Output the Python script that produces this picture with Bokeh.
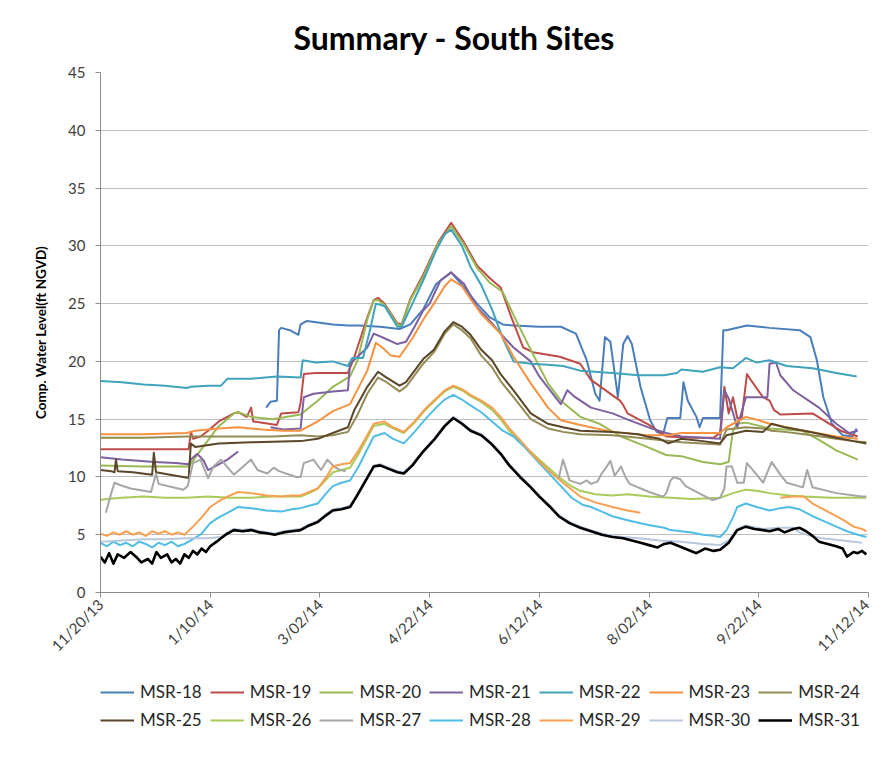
import math
from bokeh.plotting import figure
from bokeh.layouts import column
from bokeh.models import Range1d, FixedTicker, Legend, LegendItem
from bokeh.embed import file_html
from bokeh.resources import INLINE

nan = float("nan")

# x values are days since 11/20/13
tick_days = [0, 51, 102, 153, 204, 255, 306, 357]
tick_labels = ["11/20/13", "1/10/14", "3/02/14", "4/22/14", "6/12/14", "8/02/14", "9/22/14", "11/12/14"]
y_ticks = [0, 5, 10, 15, 20, 25, 30, 35, 40, 45]

names = ["MSR-18", "MSR-19", "MSR-20", "MSR-21", "MSR-22", "MSR-23", "MSR-24",
         "MSR-25", "MSR-26", "MSR-27", "MSR-28", "MSR-29", "MSR-30", "MSR-31"]
colors = ["#4A7EBB", "#BE4B48", "#98B954", "#7D60A0", "#3FA3BC", "#F69240", "#948A54",
          "#5A4628", "#A8CB5A", "#A6A6A6", "#4FBDE6", "#F9A050", "#B7C8DD", "#000000"]

msr18 = [(77, 16.0), (79, 16.5), (82, 16.6), (83, 22.7), (84, 22.9), (88, 22.7), (92, 22.3), (93, 23.2),
         (96, 23.5), (108, 23.2), (115, 23.1), (120, 23.1), (130, 23.0), (139, 22.8), (144, 23.2), (150, 24.5),
         (156, 26.7), (163, 27.7), (169, 26.4), (175, 25.0), (181, 23.8), (187, 23.2), (192, 23.1), (204, 23.0),
         (214, 23.0), (221, 22.4), (226, 20.1), (230, 17.2), (232, 16.6), (234.5, 22.1), (237, 21.7), (239, 19.0),
         (240.5, 16.9), (243, 21.5), (245, 22.2), (247, 21.5), (251, 17.8), (255.5, 14.9), (258.5, 13.9),
         (261.5, 13.7), (263.5, 15.1), (269.5, 15.1), (271, 18.2), (273, 16.6), (277, 15.2), (278.5, 14.3),
         (280, 15.1), (288, 15.1), (289.5, 22.7), (291, 22.7), (300.5, 23.1), (311, 22.9), (325, 22.7),
         (330, 22.1), (333, 20.1), (336, 16.9), (340, 14.6), (345, 13.6), (349.5, 13.5), (351.5, 14.2)]

msr19 = [(0, 12.4), (20, 12.4), (41, 12.4), (42, 13.9), (43, 13.3), (46.5, 13.5), (50, 14.0), (55, 14.8),
         (62, 15.5), (64, 15.6), (68, 15.2), (70, 16.0), (71, 14.8), (82, 14.5), (84, 15.5), (92, 15.6),
         (93, 16.4), (94.5, 18.9), (100, 19.0), (115, 19.0), (117.5, 20.1), (124, 23.8), (127, 25.3),
         (129, 25.5), (132, 25.0), (138, 23.3), (140, 23.2), (144, 25.4), (150, 27.5), (157, 30.3),
         (163, 32.0), (169, 30.3), (175, 28.3), (181, 27.2), (186, 26.4), (191, 23.8), (196.5, 21.2),
         (201, 20.8), (213.5, 20.4), (223, 19.8), (228, 18.4), (241.5, 16.6), (243, 16.2), (245, 15.5),
         (255, 14.5), (263, 13.5), (275, 13.4), (285, 13.4), (288, 13.8), (290, 17.8), (292, 15.5),
         (294, 16.9), (296, 15.1), (298, 15.0), (300.5, 18.9), (303, 18.2), (308, 16.9), (311, 16.6),
         (313, 15.8), (316, 15.4), (331, 15.5), (344, 14.0), (352, 13.5)]

msr20 = [(0, 11.0), (20, 10.9), (41, 10.9), (46.5, 12.3), (54.5, 14.3), (62, 15.5), (64, 15.6), (70, 15.2),
         (80, 15.0), (93, 15.4), (101, 16.6), (108, 17.8), (116, 18.7), (119.5, 20.1), (124, 23.6),
         (127, 25.3), (129, 25.3), (132, 24.9), (138, 23.2), (140, 23.1), (144, 25.3), (150, 27.3),
         (157, 30.2), (163, 31.7), (169, 30.1), (175, 28.1), (181, 26.8), (187, 26.0), (192, 24.0),
         (200, 21.0), (208, 18.1), (214, 16.6), (223, 15.2), (232, 14.6), (242, 13.5), (254, 12.6),
         (263, 11.9), (270, 11.8), (280, 11.3), (288, 11.1), (292, 11.3), (294, 14.0), (296, 14.6),
         (300, 14.7), (311, 14.2), (326, 14.0), (334, 13.2), (342, 12.3), (352, 11.5)]

msr21 = [(0, 11.7), (10, 11.5), (25, 11.3), (35, 11.2), (41, 11.1), (42, 11.5), (45, 12.0), (48, 11.4),
         (50, 10.6), (53, 10.9), (56, 11.2), (59, 11.5), (64, 12.2), (64.5, nan), (79, 14.3), (85, 14.1),
         (93, 14.2), (94.5, 16.9), (99, 17.2), (108, 17.4), (115, 17.5), (116, 19.8), (124, 21.2),
         (127, 22.4), (132, 22.0), (138, 21.5), (142, 21.7), (146, 23.0), (150, 24.4), (153, 25.0),
         (158, 27.0), (163, 27.7), (169, 26.7), (175, 24.7), (181, 23.5), (186, 22.4), (192, 21.2),
         (200, 20.0), (204, 18.7), (209, 17.5), (214, 16.3), (217, 17.5), (220, 17.0), (228, 16.0),
         (238, 15.5), (246, 14.9), (256, 14.2), (263, 13.8), (270, 13.5), (280, 13.4), (288, 13.3),
         (290, 17.5), (292, 16.8), (296, 14.3), (300, 16.9), (310, 16.9), (311, 19.8), (314, 19.9),
         (316, 18.8), (322, 17.5), (334, 16.0), (342, 14.6), (348, 13.8), (352, 14.0)]

msr22 = [(0, 18.3), (10, 18.2), (20, 18.0), (30, 17.9), (40, 17.7), (42, 17.8), (50, 17.9), (56, 17.9),
         (59, 18.5), (70, 18.5), (82, 18.7), (93, 18.6), (94, 20.1), (100, 19.9), (108, 20.0), (115, 19.6),
         (117, 20.3), (122, 20.3), (125, 22.5), (128, 25.0), (132, 24.8), (138, 23.0), (140, 23.0),
         (145, 25.0), (150, 27.0), (156, 29.6), (160, 31.0), (163, 31.4), (168, 30.0), (172, 28.2),
         (177, 26.6), (182, 24.5), (187, 22.0), (192, 20.0), (200, 19.8), (208, 19.7), (215, 19.6),
         (223, 19.2), (238, 19.0), (250, 18.8), (262, 18.8), (268, 19.0), (270, 19.3), (280, 19.1),
         (288, 19.5), (294, 19.4), (300, 20.3), (305, 19.9), (311, 20.1), (319, 19.6), (331, 19.4),
         (342, 19.0), (351.5, 18.7)]

msr23 = [(0, 13.7), (20, 13.7), (40, 13.8), (44, 14.0), (55, 14.2), (64, 14.3), (75, 14.1), (85, 14.0),
         (93, 14.0), (101, 14.8), (108, 15.7), (116, 16.3), (124, 19.2), (128, 21.6), (131, 21.2),
         (135, 20.5), (139, 20.4), (145, 22.0), (150, 23.6), (155, 25.0), (160, 26.5), (163, 27.1),
         (168, 26.5), (172, 25.4), (177, 24.1), (186, 22.4), (192, 20.4), (200, 18.1), (208, 16.0),
         (214, 14.9), (223, 14.5), (238, 13.9), (254, 13.6), (264, 13.6), (270, 13.8), (280, 13.8),
         (288, 13.8), (291, 14.3), (300, 15.2), (306, 14.9), (311, 14.6), (327, 14.0), (342, 13.5),
         (352, 13.3)]

msr24 = [(0, 13.4), (20, 13.4), (40, 13.5), (60, 13.5), (80, 13.5), (93, 13.6), (101, 13.5), (108, 13.6),
         (115, 13.9), (119, 15.2), (124, 17.2), (129, 18.6), (133, 18.2), (139, 17.4), (142, 17.8),
         (150, 19.8), (155, 20.8), (160, 22.4), (164, 23.2), (168, 22.7), (172, 22.0), (177, 20.5),
         (182, 19.5), (186, 18.3), (192, 16.9), (200, 15.0), (208, 14.2), (215, 13.9), (223, 13.7),
         (238, 13.6), (250, 13.4), (260, 13.2), (270, 13.0), (280, 12.9), (288, 12.8), (291, 14.1),
         (300, 14.3), (308, 14.2), (312, 14.0), (318, 13.9), (327, 13.7), (335, 13.5), (342, 13.3),
         (350, 13.1), (356, 13.0)]

msr25 = [(0, 10.6), (5, 10.5), (6.5, 10.4), (7.2, 11.5), (8, 10.5), (15, 10.4), (24, 10.2), (24.8, 12.1),
         (25.8, 10.4), (35, 10.1), (41, 9.9), (42, 12.9), (44, 12.6), (55, 12.9), (70, 13.0), (93, 13.1),
         (101, 13.3), (108, 13.8), (115, 14.3), (118, 15.8), (124, 17.8), (129, 19.1), (133, 18.6),
         (139, 17.9), (142, 18.2), (150, 20.2), (155, 21.0), (160, 22.6), (164, 23.4), (168, 23.0),
         (172, 22.3), (177, 21.0), (182, 20.1), (186, 18.9), (192, 17.5), (200, 15.5), (208, 14.6),
         (215, 14.3), (223, 14.0), (238, 13.9), (250, 13.7), (254, 13.5), (260, 13.3), (264, 12.9),
         (270, 13.3), (280, 13.1), (288, 12.9), (291, 13.6), (300, 14.0), (308, 13.9), (312, 14.6),
         (318, 14.3), (327, 14.0), (335, 13.7), (342, 13.4), (350, 13.1), (356, 12.9)]

msr26 = [(0, 8.0), (3, 8.1), (10, 8.2), (20, 8.3), (30, 8.2), (40, 8.2), (50, 8.3), (60, 8.2), (70, 8.2),
         (80, 8.3), (93, 8.3), (97, 8.6), (101, 9.0), (105, 9.8), (108, 10.4), (112, 10.6), (116, 10.8),
         (120, 12.0), (124, 13.4), (127, 14.4), (132, 14.6), (136, 14.2), (141, 13.8), (146, 14.7),
         (151, 15.8), (156, 16.7), (160, 17.4), (164, 17.8), (168, 17.5), (172, 17.0), (177, 16.5),
         (182, 15.8), (186, 15.0), (190, 14.0), (195, 13.0), (201, 12.0), (207, 11.0), (213, 10.0),
         (218, 9.3), (223, 8.8), (230, 8.5), (238, 8.4), (245, 8.5), (255, 8.3), (265, 8.2), (275, 8.1),
         (288, 8.2), (294, 8.6), (300, 8.9), (305, 8.8), (311, 8.6), (320, 8.4), (327, 8.3), (340, 8.2),
         (356, 8.2)]

msr27 = [(2.5, 6.9), (5, 8.6), (6.5, 9.5), (9, 9.3), (14, 9.0), (23.5, 8.7), (25.8, 10.3), (27, 9.4),
         (38.5, 8.9), (40.5, 9.2), (43, 11.2), (46.5, 11.5), (50, 9.9), (52.5, 10.9), (56, 11.5), (62, 10.2),
         (70, 11.5), (73, 10.6), (77.5, 10.3), (80.5, 10.8), (83, 10.5), (91, 10.0), (93, 10.0), (94.5, 11.2),
         (99, 11.5), (102.5, 10.6), (105.5, 11.5), (108.5, 10.9), (111.5, 10.6), (114, 10.5), (114.5, nan),
         (213, 9.9), (215, 11.5), (218, 9.7), (223, 9.4), (226, 9.7), (228, 9.4), (231, 9.6), (233, 10.3),
         (235, 10.8), (237, 11.4), (239, 10.1), (242, 10.9), (244, 10.0), (246, 9.4), (255, 8.7),
         (261.5, 8.3), (263, 8.6), (265, 9.7), (266.5, 10.0), (269.5, 9.8), (272, 9.2), (277, 8.7),
         (284.5, 8.0), (288, 8.2), (290, 9.0), (291, 10.9), (293.5, 10.9), (296, 9.5), (299, 9.5),
         (300.5, 11.2), (305, 10.2), (308, 9.5), (312, 11.3), (316, 10.2), (319, 9.5), (326.5, 9.1),
         (328.5, 10.6), (331, 9.1), (342, 8.6), (354, 8.3), (356, 8.3)]

msr28 = [(0, 4.3), (3, 4.0), (6, 4.4), (9, 4.1), (12, 4.3), (15, 4.0), (18, 4.4), (21, 4.2), (24, 3.9),
         (27, 4.3), (30, 4.1), (33, 4.4), (36, 4.0), (39, 4.2), (42, 4.5), (47, 5.1), (51, 6.0), (55, 6.5),
         (59, 6.9), (64, 7.4), (70, 7.3), (77, 7.1), (84, 7.0), (89, 7.2), (93, 7.3), (97, 7.5), (101, 7.7),
         (105, 8.6), (108, 9.2), (112, 9.5), (116, 9.7), (120, 10.9), (124, 12.4), (127, 13.5), (132, 13.8),
         (136, 13.3), (141, 12.9), (146, 13.9), (151, 15.0), (156, 16.0), (160, 16.7), (164, 17.1),
         (168, 16.7), (172, 16.2), (177, 15.6), (182, 14.8), (187, 14.0), (192, 13.5), (197, 12.6),
         (204, 11.2), (209, 10.2), (214, 9.2), (219, 8.2), (224, 7.6), (228, 7.4), (233, 7.0), (238, 6.6),
         (244, 6.3), (251, 6.0), (256, 5.8), (262, 5.6), (265, 5.4), (270, 5.3), (275, 5.2), (280, 5.0),
         (285, 4.9), (288, 4.8), (291, 5.4), (294, 6.5), (296, 7.4), (300, 7.7), (305, 7.4), (311, 7.1),
         (316, 7.3), (320, 7.4), (325, 7.2), (331, 6.6), (336, 6.2), (342, 5.7), (347, 5.3), (352, 5.0),
         (356, 4.8)]

msr29 = [(0, 5.1), (3, 4.9), (6, 5.2), (9, 5.0), (12, 5.3), (15, 5.0), (18, 5.2), (21, 4.9), (24, 5.3),
         (27, 5.1), (30, 5.3), (33, 5.0), (36, 5.2), (39, 5.0), (43, 5.7), (47, 6.5), (51, 7.4), (55, 7.9),
         (59, 8.3), (64, 8.7), (70, 8.6), (77, 8.4), (84, 8.3), (89, 8.4), (93, 8.4), (97, 8.7), (101, 9.0),
         (105, 10.0), (108, 10.9), (112, 11.1), (116, 11.2), (120, 12.3), (124, 13.6), (127, 14.6),
         (132, 14.8), (136, 14.3), (141, 13.9), (146, 14.8), (151, 15.9), (156, 16.8), (160, 17.5),
         (164, 17.9), (168, 17.6), (172, 17.1), (177, 16.6), (182, 16.0), (186, 15.2), (190, 14.2),
         (195, 13.2), (201, 11.9), (208, 10.6), (215, 9.5), (223, 8.3), (230, 7.8), (238, 7.4), (245, 7.1),
         (251, 6.9), (252, nan), (316, 8.2), (322, 8.3), (327, 8.3), (331, 7.7), (337, 7.1), (342, 6.6),
         (346, 6.2), (350, 5.7), (354, 5.5), (356, 5.3)]

msr30 = [(0, 4.4), (10, 4.5), (20, 4.6), (30, 4.6), (40, 4.7), (50, 4.7), (56, 4.8), (59, 5.2), (62, 5.5),
         (66, 5.4), (70, 5.5), (74, 5.3), (78, 5.2), (81, 5.1), (85, 5.3), (89, 5.4), (93, 5.5), (97, 5.9),
         (101, 6.2), (105, 6.8), (108, 7.2), (112, 7.3), (116, 7.5), (119, 8.4), (123, 9.7), (127, 11.0),
         (130, 11.1), (134, 10.8), (138, 10.5), (141, 10.4), (145, 11.1), (150, 12.3), (155, 13.3),
         (160, 14.5), (164, 15.2), (168, 14.7), (172, 14.1), (177, 13.7), (182, 12.9), (186, 12.1),
         (190, 11.1), (195, 10.1), (200, 9.2), (204, 8.4), (209, 7.5), (213, 6.7), (218, 6.1), (223, 5.7),
         (228, 5.4), (233, 5.1), (238, 4.9), (243, 4.8), (250, 4.7), (260, 4.5), (270, 4.4), (280, 4.2),
         (288, 4.1), (292, 4.5), (296, 5.5), (300, 5.8), (308, 5.5), (315, 5.6), (322, 5.6), (325, 5.2),
         (330, 4.9), (335, 4.7), (340, 4.6), (345, 4.5), (350, 4.4), (354, 4.3)]

msr31 = [(0, 3.1), (2, 2.6), (4, 3.4), (6, 2.5), (8, 3.3), (11, 3.0), (14, 3.5), (17, 3.0), (19, 2.6),
         (22, 2.9), (24, 2.5), (26, 3.5), (28, 3.0), (31, 3.3), (33, 2.6), (35, 2.9), (37, 2.5), (39, 3.3),
         (41, 3.0), (43, 3.6), (45, 3.3), (47, 3.8), (49, 3.5), (51, 4.0), (54, 4.4), (56, 4.7), (59, 5.1),
         (62, 5.4), (66, 5.3), (70, 5.4), (74, 5.2), (78, 5.1), (81, 5.0), (85, 5.2), (89, 5.3), (93, 5.4),
         (97, 5.8), (101, 6.1), (105, 6.7), (108, 7.1), (112, 7.2), (116, 7.4), (119, 8.3), (123, 9.6),
         (127, 10.9), (130, 11.0), (134, 10.7), (138, 10.4), (141, 10.3), (145, 11.0), (150, 12.2),
         (155, 13.2), (160, 14.4), (164, 15.1), (168, 14.6), (172, 14.0), (177, 13.6), (182, 12.8),
         (186, 12.0), (190, 11.0), (195, 10.0), (200, 9.1), (204, 8.3), (209, 7.4), (213, 6.6), (218, 6.0),
         (223, 5.6), (228, 5.3), (233, 5.0), (238, 4.8), (243, 4.7), (247, 4.5), (251, 4.3), (255, 4.1),
         (259, 3.9), (262, 4.2), (265, 4.3), (269, 4.0), (273, 3.7), (277, 3.4), (281, 3.8), (285, 3.6),
         (288, 3.7), (292, 4.3), (296, 5.4), (300, 5.7), (304, 5.5), (308, 5.4), (311, 5.3), (315, 5.5),
         (318, 5.2), (322, 5.5), (325, 5.6), (328, 5.3), (331, 4.9), (334, 4.4), (338, 4.2), (342, 4.0),
         (345, 3.8), (347, 3.1), (350, 3.5), (352, 3.4), (354, 3.6), (356, 3.3)]

series = [msr18, msr19, msr20, msr21, msr22, msr23, msr24,
          msr25, msr26, msr27, msr28, msr29, msr30, msr31]

FONT = "Lato"
MAIN_H = 664
LEG_H = 76

p = figure(width=872, height=MAIN_H, x_range=Range1d(0, 357), y_range=Range1d(0, 45),
           output_backend="svg", toolbar_location=None,
           min_border_left=100, min_border_right=4, min_border_top=72,
           min_border_bottom=MAIN_H - 592)

p.outline_line_color = None
p.background_fill_color = "white"
p.border_fill_color = "white"

# title
p.title.text = "Summary - South Sites"
p.title.text_font = FONT
p.title.text_font_size = "32px"
p.title.text_font_style = "bold"
p.title.text_color = "#000000"
p.title.align = "left"
p.title.offset = 193
p.title.standoff = 31

# axes
p.xaxis.ticker = FixedTicker(ticks=tick_days)
p.xaxis.major_label_overrides = {d: lab for d, lab in zip(tick_days, tick_labels)}
p.xaxis.major_label_orientation = math.pi / 4
p.yaxis.ticker = FixedTicker(ticks=y_ticks)
for ax in (p.xaxis[0], p.yaxis[0]):
    ax.axis_line_color = "#8C8C8C"
    ax.major_tick_line_color = "#8C8C8C"
    ax.minor_tick_line_color = None
    ax.major_tick_in = 0
    ax.major_tick_out = 5
    ax.major_label_text_font = FONT
    ax.major_label_text_font_size = "15px"
    ax.major_label_text_color = "#404040"
p.xaxis.major_label_standoff = 4
p.yaxis.major_label_standoff = 10

p.yaxis.axis_label = "Comp. Water Level(ft NGVD)"
p.yaxis.axis_label_text_font = FONT
p.yaxis.axis_label_text_font_size = "13.5px"
p.yaxis.axis_label_text_font_style = "bold"
p.yaxis.axis_label_text_color = "#000000"
p.yaxis.axis_label_standoff = 16

p.xgrid.visible = False
p.ygrid.ticker = FixedTicker(ticks=y_ticks)
p.ygrid.grid_line_color = "#BFBFBF"
p.ygrid.grid_line_width = 1

for name, color, data in zip(names, colors, series):
    xs = [d for d, v in data]
    ys = [v for d, v in data]
    lw = 2.6 if name == "MSR-31" else 2
    p.line(xs, ys, line_color=color, line_width=lw, line_join="round")

# legend strip below the chart (its frame lines up with the chart frame)
q = figure(width=872, height=LEG_H, x_range=Range1d(0, 1), y_range=Range1d(0, 1),
           x_axis_type=None, y_axis_type=None, output_backend="svg", toolbar_location=None,
           min_border=0)
q.outline_line_color = None
q.xgrid.visible = False
q.ygrid.visible = False

items = []
for name, color in zip(names, colors):
    lw = 2.6 if name == "MSR-31" else 2
    r = q.line([nan], [nan], line_color=color, line_width=lw)
    items.append(LegendItem(label=name, renderers=[r]))


def make_legend(its, loc):
    lg = Legend(items=its, location=loc, orientation="horizontal")
    lg.label_text_font = FONT
    lg.label_text_font_size = "17px"
    lg.label_text_color = "#262626"
    lg.glyph_width = 34
    lg.glyph_height = 20
    lg.label_standoff = 6
    lg.label_width = 60
    lg.label_height = 20
    lg.spacing = 8
    lg.padding = 0
    lg.margin = 0
    lg.border_line_color = None
    lg.background_fill_alpha = 0
    return lg


# rows centred about 692 and 720 px from the page top
q.add_layout(make_legend(items[:7], (0, MAIN_H + LEG_H - 702)))
q.add_layout(make_legend(items[7:], (0, MAIN_H + LEG_H - 730)))

open("out.html", "w").write(file_html(column(p, q, spacing=0), INLINE))
